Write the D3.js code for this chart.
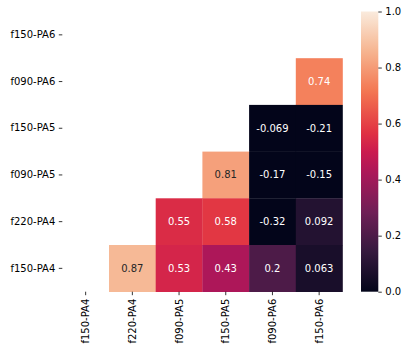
<!DOCTYPE html>
<html>
<head>
<meta charset="utf-8">
<script src="https://cdn.jsdelivr.net/npm/d3@7"></script>
<style>
  body { margin: 0; background: #fff; }
  svg text { font-family: "DejaVu Sans", sans-serif; }
</style>
</head>
<body>
<svg id="chart" width="407" height="354"></svg>
<script>
const rowLabels = ["f150-PA6", "f090-PA6", "f150-PA5", "f090-PA5", "f220-PA4", "f150-PA4"];
const colLabels = ["f150-PA4", "f220-PA4", "f090-PA5", "f150-PA5", "f090-PA6", "f150-PA6"];
// null = masked cell
const values = [
    [null, null, null, null, null, null],
    [null, null, null, null, null, 0.74],
    [null, null, null, null, -0.069, -0.21],
    [null, null, null, 0.81, -0.17, -0.15],
    [null, null, 0.55, 0.58, -0.32, 0.092],
    [null, 0.87, 0.53, 0.43, 0.2, 0.063]
];
const cbarTicks = [0, 0.2, 0.4, 0.6, 0.8, 1.0];

// rocket colormap stops
const rocketStops = [0, 0.143, 0.286, 0.429, 0.5, 0.571, 0.714, 0.857, 1];
const rocketColors = ["#03051a", "#35193e", "#701f57", "#ad1759", "#cb1b4f", "#e13342", "#f37651", "#f6b48f", "#faebdd"];

const color = d3.scaleLinear()
    .domain(rocketStops)
    .range(rocketColors)
    .interpolate(d3.interpolateRgb)
    .clamp(true);

const svg = d3.select("#chart");
const plotLeft = 62.3, plotTop = 11.5, cell = 46.7;

const x = d3.scaleBand().domain(colLabels).range([plotLeft, plotLeft + cell * 6]);
const y = d3.scaleBand().domain(rowLabels).range([plotTop, plotTop + cell * 6]);

const cells = [];
values.forEach((row, i) => {
    row.forEach((v, j) => {
        if (v !== null) cells.push({ r: rowLabels[i], c: colLabels[j], v: v });
    });
});

function textColor(v) {
    const c = d3.rgb(color(v));
    const lum = [c.r, c.g, c.b].map(ch => {
        ch /= 255;
        return ch <= 0.03928 ? ch / 12.92 : Math.pow((ch + 0.055) / 1.055, 2.4);
    });
    const l = 0.2126 * lum[0] + 0.7152 * lum[1] + 0.0722 * lum[2];
    return l > 0.408 ? "#262626" : "#ffffff";
}

svg.selectAll("rect.cell")
    .data(cells)
    .enter()
    .append("rect")
    .attr("class", "cell")
    .attr("x", d => x(d.c))
    .attr("y", d => y(d.r))
    .attr("width", x.bandwidth() + 0.3)
    .attr("height", y.bandwidth() + 0.3)
    .attr("fill", d => color(d.v));

svg.selectAll("text.annot")
    .data(cells)
    .enter()
    .append("text")
    .attr("class", "annot")
    .attr("x", d => x(d.c) + x.bandwidth() / 2)
    .attr("y", d => y(d.r) + y.bandwidth() / 2)
    .attr("dy", "0.35em")
    .attr("text-anchor", "middle")
    .attr("font-size", "10px")
    .attr("fill", d => textColor(d.v))
    .text(d => d.v);

// axes
const yAxis = d3.axisLeft(y).tickSize(3.5).tickPadding(3.5);
const gy = svg.append("g").attr("transform", `translate(${plotLeft},0)`).call(yAxis);
gy.select(".domain").remove();
gy.selectAll("text").attr("font-size", "10px").attr("fill", "#000").style("font-family", "DejaVu Sans");
gy.selectAll("line").attr("stroke", "#000").attr("stroke-width", 0.8);

const xAxis = d3.axisBottom(x).tickSize(3.5).tickPadding(3.5);
const gx = svg.append("g").attr("transform", `translate(0,${plotTop + cell * 6})`).call(xAxis);
gx.select(".domain").remove();
gx.selectAll("line").attr("stroke", "#000").attr("stroke-width", 0.8);
gx.selectAll("text")
    .attr("font-size", "10px")
    .attr("fill", "#000")
    .style("font-family", "DejaVu Sans")
    .attr("transform", "rotate(-90)")
    .attr("text-anchor", "end")
    .attr("x", -7)
    .attr("y", 0)
    .attr("dy", "0.35em");

// colorbar
const cbX = 361, cbW = 17.3, cbTop = plotTop, cbBottom = plotTop + cell * 6;
const cbScale = d3.scaleLinear().domain([0, 1]).range([cbBottom, cbTop]);

const defs = svg.append("defs");
const grad = defs.append("linearGradient")
    .attr("id", "rocket")
    .attr("x1", "0").attr("y1", "1").attr("x2", "0").attr("y2", "0");
d3.range(0, 1.0001, 0.02).forEach(t => {
    grad.append("stop").attr("offset", t).attr("stop-color", color(t));
});

svg.append("rect")
    .attr("x", cbX)
    .attr("y", cbTop)
    .attr("width", cbW)
    .attr("height", cbBottom - cbTop)
    .attr("fill", "url(#rocket)");

const cbAxis = d3.axisRight(cbScale).tickValues(cbarTicks).tickFormat(d3.format(".1f")).tickSize(3.5).tickPadding(3.5);
const gc = svg.append("g").attr("transform", `translate(${cbX + cbW},0)`).call(cbAxis);
gc.select(".domain").remove();
gc.selectAll("line").attr("stroke", "#000").attr("stroke-width", 0.8);
gc.selectAll("text").attr("font-size", "10px").attr("fill", "#000").style("font-family", "DejaVu Sans");
</script>
</body>
</html>
